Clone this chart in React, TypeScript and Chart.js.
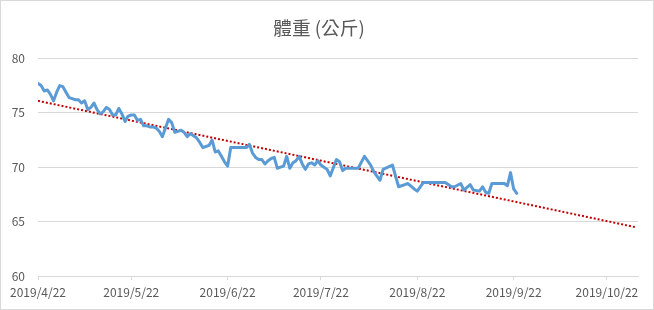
import React, { useEffect, useRef } from "react";
import { Chart, registerables } from "chart.js";

Chart.register(...registerables);

const chartTitle = "體重 (公斤)";
const startDate = "2019/4/22";

const weightDates = [
  "4/22", "4/23", "4/24", "4/25", "4/26", "4/27", "4/28", "4/29", "4/30",
  "5/1", "5/2", "5/3", "5/4", "5/5", "5/6", "5/7", "5/8", "5/9", "5/10",
  "5/11", "5/12", "5/13", "5/14", "5/15", "5/16", "5/17", "5/18", "5/19", "5/20",
  "5/21", "5/22", "5/23", "5/24", "5/25", "5/26", "5/27", "5/28", "5/29", "5/30", "5/31",
  "6/1", "6/2", "6/3", "6/4", "6/5", "6/6", "6/7", "6/8", "6/9", "6/10",
  "6/11", "6/12", "6/13", "6/14", "6/15", "6/16", "6/17", "6/18", "6/19", "6/20",
  "6/21", "6/22", "6/23", "6/28", "6/29", "6/30",
  "7/1", "7/2", "7/3", "7/4", "7/5", "7/6", "7/7", "7/8", "7/9", "7/10",
  "7/11", "7/12", "7/13", "7/14", "7/15", "7/16", "7/17", "7/18", "7/19", "7/20",
  "7/21", "7/22", "7/23", "7/24", "7/25", "7/27", "7/28", "7/29", "7/30",
  "8/3", "8/5", "8/6", "8/7", "8/8", "8/10", "8/11", "8/14", "8/16", "8/18", "8/19",
  "8/21", "8/22", "8/24", "8/31",
  "9/2", "9/3", "9/5", "9/6", "9/8", "9/9", "9/11", "9/12", "9/13", "9/14", "9/15",
  "9/19", "9/20", "9/21", "9/22", "9/23",
];

const weightValues = [
  77.7, 77.5, 77.0, 77.1, 76.7, 76.1, 76.9, 77.5, 77.4,
  76.9, 76.4, 76.3, 76.2, 76.2, 75.9, 76.1, 75.3, 75.5, 75.9,
  75.3, 74.9, 75.1, 75.5, 75.3, 74.8, 74.8, 75.4, 74.9, 74.2,
  74.7, 74.8, 74.8, 74.3, 74.4, 73.8, 73.8, 73.7, 73.7, 73.6, 73.3,
  72.8, 73.6, 74.4, 74.1, 73.2, 73.3, 73.4, 73.2, 72.8, 73.1,
  72.9, 72.7, 72.3, 71.8, 71.9, 72.0, 72.5, 71.4, 71.5, 71.0,
  70.5, 70.1, 71.8, 71.8, 72.1, 71.3,
  70.9, 70.7, 70.7, 70.3, 70.6, 70.8, 70.9, 69.9, 70.0, 70.1,
  71.0, 69.9, 70.4, 70.6, 71.0, 70.3, 69.8, 70.3, 70.4, 70.2,
  70.6, 70.2, 70.0, 69.8, 69.2, 70.7, 70.5, 69.7, 69.9,
  69.9, 71.0, 70.6, 70.2, 69.6, 68.8, 69.8, 70.2, 68.2, 68.4, 68.5,
  68.0, 67.8, 68.6, 68.6,
  68.2, 68.2, 68.5, 67.9, 68.4, 67.9, 67.8, 68.2, 67.7, 67.6, 68.5,
  68.5, 68.3, 69.5, 68.0, 67.6,
];

const trendDates = ["4/22", "10/31"];
const trendValues = [76.1, 64.5];

const xTickDates = ["4/22", "5/22", "6/22", "7/22", "8/22", "9/22", "10/22"];
const xAxisEnd = "11/1";
const yTicks = [60, 65, 70, 75, 80];

const DAY = 86400000;
const startMs = Date.UTC(2019, 3, 22);
function dayOf(md: string): number {
  const [m, d] = md.split("/").map(Number);
  return Math.round((Date.UTC(2019, m - 1, d) - startMs) / DAY);
}
function labelOf(day: number): string {
  const dt = new Date(startMs + day * DAY);
  return `${dt.getUTCFullYear()}/${dt.getUTCMonth() + 1}/${dt.getUTCDate()}`;
}

const frame = {
  id: "frame",
  beforeDraw(chart: any) {
    const { ctx, width, height } = chart;
    ctx.save();
    ctx.fillStyle = "#ffffff";
    ctx.fillRect(0, 0, width, height);
    ctx.strokeStyle = "#d9d9d9";
    ctx.lineWidth = 1;
    ctx.strokeRect(0.5, 0.5, width - 1, height - 1);
    ctx.restore();
  },
};

export default function App() {
  const ref = useRef<HTMLCanvasElement | null>(null);
  useEffect(() => {
    if (!ref.current) return;
    Chart.defaults.font.family = "'Noto Sans CJK TC', 'Noto Sans', sans-serif";
    const chart = new Chart(ref.current, {
      type: "line",
      data: {
        datasets: [
          {
            label: "體重",
            data: weightDates.map((d, i) => ({ x: dayOf(d), y: weightValues[i] })),
            borderColor: "#5b9bd5",
            borderWidth: 3,
            pointRadius: 0,
            tension: 0,
            fill: false,
            borderJoinStyle: "round",
            borderCapStyle: "round",
          },
          {
            label: "趨勢",
            data: trendDates.map((d, i) => ({ x: dayOf(d), y: trendValues[i] })),
            borderColor: "#c00000",
            borderWidth: 2,
            borderDash: [2, 2],
            pointRadius: 0,
            fill: false,
          },
        ],
      },
      options: {
        responsive: false,
        animation: false,
        parsing: false as any,
        layout: { padding: { left: 0, right: 16, top: 0, bottom: 0 } },
        plugins: {
          legend: { display: false },
          tooltip: { enabled: false },
          title: {
            display: true,
            text: chartTitle,
            color: "#595959",
            font: { size: 18.67, weight: "normal" as any },
            padding: { top: 17, bottom: 19 },
          },
        },
        scales: {
          x: {
            type: "linear",
            min: dayOf(startDate.slice(5)),
            max: dayOf(xAxisEnd),
            afterBuildTicks: (scale: any) => {
              scale.ticks = xTickDates.map((d) => ({ value: dayOf(d) }));
            },
            afterFit: (scale: any) => {
              scale.height = 34;
            },
            ticks: {
              color: "#595959",
              font: { size: 12 },
              padding: 5,
              maxRotation: 0,
              autoSkip: false,
              callback: (v: any) => labelOf(Number(v)),
            },
            grid: {
              display: true,
              drawOnChartArea: false,
              drawTicks: true,
              tickLength: 4,
              color: "#d9d9d9",
            },
            border: { display: true, color: "#d9d9d9", width: 1 },
          },
          y: {
            type: "linear",
            min: yTicks[0],
            max: yTicks[yTicks.length - 1],
            afterBuildTicks: (scale: any) => {
              scale.ticks = yTicks.map((v) => ({ value: v }));
            },
            afterFit: (scale: any) => {
              scale.width = 38;
            },
            ticks: {
              color: "#595959",
              font: { size: 12 },
              padding: 13,
            },
            grid: { color: "#d9d9d9", drawTicks: false, lineWidth: 1 },
            border: { display: false },
          },
        },
      },
      plugins: [frame],
    });
    return () => chart.destroy();
  }, []);
  return (
    <div style={{ position: "fixed", left: 0, top: 0, width: 654, height: 310 }}>
      <canvas ref={ref} width={654} height={310} />
    </div>
  );
}
